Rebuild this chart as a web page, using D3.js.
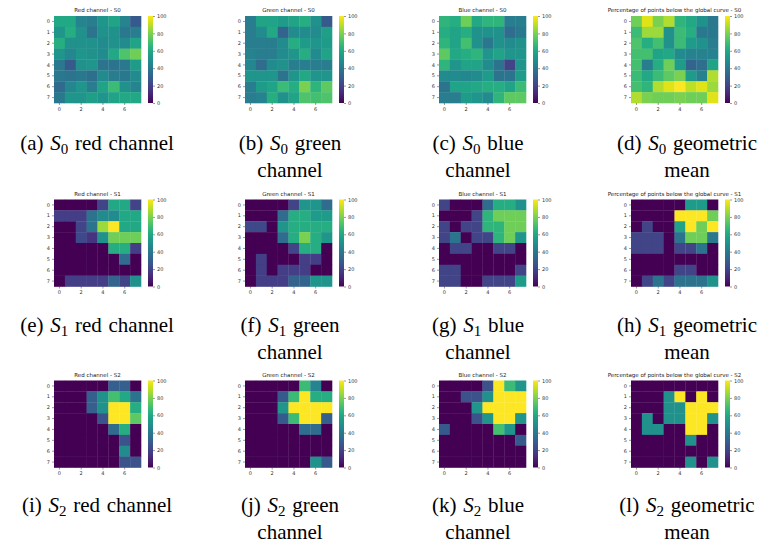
<!DOCTYPE html>
<html>
<head>
<meta charset="utf-8">
<script src="https://cdn.jsdelivr.net/npm/d3@7"></script>
<style>
body { margin: 0; background: #fff; }
svg { display: block; }
.tick text { font-family: "DejaVu Sans", sans-serif; font-size: 5px; fill: #333; }
.tick line { stroke: #333; stroke-width: 0.5; }
.domain { display: none; }
.panel-title { font-family: "DejaVu Sans", sans-serif; font-size: 5.5px; fill: #222; }
.caption { font-family: "Liberation Serif", "Times New Roman", serif; font-size: 21px; fill: #000; word-spacing: 1.5px; }
</style>
</head>
<body>
<svg id="chart" width="760" height="544"></svg>
<script>
const GRID_INDEX = [0, 1, 2, 3, 4, 5, 6, 7];
const X_TICKS = [0, 2, 4, 6];
const CBAR_TICKS = [0, 20, 40, 60, 80, 100];

// S0 - values (0..100)
const redS0 = [
    [60, 60, 45, 42, 52, 58, 45, 28],
    [52, 62, 50, 38, 50, 50, 40, 42],
    [62, 50, 50, 50, 48, 50, 48, 58],
    [52, 46, 52, 50, 48, 60, 72, 78],
    [40, 28, 50, 52, 38, 38, 40, 55],
    [40, 38, 40, 36, 48, 42, 40, 48],
    [34, 46, 52, 42, 58, 68, 50, 45],
    [40, 52, 52, 56, 52, 58, 60, 60]
];
const greenS0 = [
    [42, 58, 58, 55, 58, 62, 50, 28],
    [42, 48, 60, 32, 48, 48, 48, 56],
    [42, 42, 42, 48, 62, 55, 52, 55],
    [44, 42, 42, 48, 52, 62, 48, 58],
    [46, 35, 48, 50, 42, 42, 42, 42],
    [52, 52, 52, 38, 52, 60, 52, 52],
    [42, 55, 58, 68, 62, 80, 65, 75],
    [42, 44, 62, 50, 58, 72, 70, 72]
];
const blueS0 = [
    [65, 62, 78, 60, 65, 65, 42, 42],
    [62, 58, 62, 50, 50, 50, 35, 40],
    [65, 58, 70, 50, 40, 50, 48, 50],
    [75, 60, 62, 65, 52, 58, 52, 52],
    [65, 52, 58, 58, 48, 38, 20, 52],
    [48, 48, 46, 48, 55, 38, 38, 55],
    [38, 58, 58, 60, 62, 62, 58, 68],
    [42, 42, 55, 52, 48, 65, 75, 75]
];
const geoS0 = [
    [78, 95, 80, 88, 65, 60, 50, 40],
    [68, 85, 85, 50, 68, 62, 40, 40],
    [72, 62, 70, 50, 68, 55, 50, 42],
    [70, 70, 58, 60, 48, 44, 44, 44],
    [70, 42, 62, 78, 55, 32, 36, 58],
    [68, 60, 68, 75, 80, 55, 44, 88],
    [70, 65, 88, 95, 100, 90, 95, 85],
    [88, 80, 78, 78, 80, 78, 78, 95]
];

// S1
const redS1 = [
    [0, 0, 0, 0, 20, 60, 60, 20],
    [18, 18, 18, 38, 48, 48, 60, 60],
    [0, 0, 20, 38, 85, 100, 60, 60],
    [0, 0, 22, 15, 50, 78, 78, 78],
    [0, 0, 0, 0, 0, 62, 62, 18],
    [0, 0, 0, 0, 0, 0, 35, 0],
    [0, 0, 0, 0, 0, 0, 0, 0],
    [0, 18, 18, 18, 18, 32, 20, 50]
];
const greenS1 = [
    [0, 0, 0, 0, 20, 52, 52, 35],
    [0, 0, 0, 35, 62, 62, 55, 55],
    [22, 22, 0, 52, 62, 62, 62, 62],
    [0, 0, 0, 35, 62, 80, 62, 52],
    [0, 0, 0, 0, 20, 62, 62, 0],
    [0, 18, 0, 0, 0, 18, 18, 0],
    [0, 18, 0, 18, 18, 18, 0, 0],
    [0, 18, 18, 18, 32, 32, 52, 52]
];
const blueS1 = [
    [20, 0, 0, 0, 35, 62, 62, 50],
    [0, 0, 0, 20, 65, 78, 78, 78],
    [20, 0, 20, 20, 65, 65, 78, 78],
    [20, 38, 0, 20, 20, 65, 78, 52],
    [0, 20, 20, 0, 0, 20, 20, 0],
    [0, 0, 0, 0, 0, 0, 0, 0],
    [20, 20, 0, 0, 0, 0, 0, 20],
    [20, 20, 0, 0, 20, 20, 20, 55]
];
const geoS1 = [
    [0, 0, 0, 0, 0, 55, 55, 0],
    [0, 0, 0, 0, 100, 100, 100, 78],
    [0, 20, 0, 0, 58, 100, 78, 100],
    [20, 20, 20, 0, 38, 78, 78, 40],
    [20, 20, 20, 0, 20, 20, 38, 0],
    [0, 0, 0, 0, 0, 0, 0, 0],
    [0, 0, 0, 0, 20, 20, 0, 0],
    [0, 20, 38, 20, 38, 38, 38, 50]
];

// S2
const redS2 = [
    [0, 0, 0, 0, 0, 30, 30, 0],
    [0, 0, 0, 30, 50, 70, 60, 38],
    [0, 0, 0, 30, 50, 100, 100, 62],
    [0, 0, 0, 0, 25, 100, 100, 75],
    [0, 0, 0, 0, 0, 35, 62, 0],
    [0, 0, 0, 0, 0, 0, 25, 0],
    [0, 0, 0, 0, 0, 0, 48, 0],
    [0, 0, 0, 0, 0, 0, 25, 25]
];
const greenS2 = [
    [0, 0, 0, 0, 0, 68, 45, 0],
    [0, 0, 0, 28, 68, 100, 62, 62],
    [0, 0, 0, 52, 100, 100, 100, 100],
    [0, 0, 0, 28, 68, 100, 100, 30],
    [0, 0, 0, 0, 0, 35, 35, 0],
    [0, 0, 0, 0, 0, 0, 0, 0],
    [0, 0, 0, 0, 0, 0, 0, 0],
    [0, 0, 0, 0, 0, 0, 50, 28]
];
const blueS2 = [
    [0, 0, 0, 0, 25, 100, 68, 52],
    [0, 0, 25, 25, 50, 100, 100, 100],
    [0, 0, 0, 52, 100, 100, 100, 100],
    [0, 0, 0, 25, 52, 100, 100, 52],
    [28, 0, 0, 0, 0, 70, 52, 0],
    [0, 0, 0, 0, 0, 0, 0, 28],
    [0, 0, 0, 0, 0, 0, 0, 0],
    [0, 0, 0, 0, 0, 0, 0, 0]
];
const geoS2 = [
    [0, 0, 0, 0, 0, 0, 0, 0],
    [0, 0, 0, 50, 100, 0, 100, 0],
    [0, 0, 0, 50, 50, 100, 100, 100],
    [0, 50, 0, 50, 50, 100, 100, 50],
    [0, 50, 50, 0, 0, 100, 100, 0],
    [0, 0, 0, 0, 0, 50, 0, 0],
    [0, 0, 0, 0, 0, 0, 0, 0],
    [0, 0, 0, 0, 0, 50, 0, 50]
];

const GEO_TITLE = 'Percentage of points below the global curve';

// one entry per sub-figure, row by row
const panels = [
    {data: redS0, title: 'Red channel', s: '0', letter: 'a', lines: ['red channel']},
    {data: greenS0, title: 'Green channel', s: '0', letter: 'b', lines: ['green', 'channel']},
    {data: blueS0, title: 'Blue channel', s: '0', letter: 'c', lines: ['blue', 'channel']},
    {data: geoS0, title: GEO_TITLE, s: '0', letter: 'd', lines: ['geometric', 'mean']},
    {data: redS1, title: 'Red channel', s: '1', letter: 'e', lines: ['red channel']},
    {data: greenS1, title: 'Green channel', s: '1', letter: 'f', lines: ['green', 'channel']},
    {data: blueS1, title: 'Blue channel', s: '1', letter: 'g', lines: ['blue', 'channel']},
    {data: geoS1, title: GEO_TITLE, s: '1', letter: 'h', lines: ['geometric', 'mean']},
    {data: redS2, title: 'Red channel', s: '2', letter: 'i', lines: ['red channel']},
    {data: greenS2, title: 'Green channel', s: '2', letter: 'j', lines: ['green', 'channel']},
    {data: blueS2, title: 'Blue channel', s: '2', letter: 'k', lines: ['blue', 'channel']},
    {data: geoS2, title: GEO_TITLE, s: '2', letter: 'l', lines: ['geometric', 'mean']}
];

// layout
const MAP_SIZE = 87;
const COL_LEFT = [54, 245, 439, 631];
const ROW_TOP = [16, 199.5, 380.5];
const CAPTION_X = [97, 290, 478, 687];
const CAPTION_Y = [150, 332, 512];
const LINE_GAP = 27;
const CBAR_GAP = 7;
const CBAR_W = 5;

const svg = d3.select('#chart');

const x = d3.scaleBand().domain(GRID_INDEX).range([0, MAP_SIZE]);
const y = d3.scaleBand().domain(GRID_INDEX).range([0, MAP_SIZE]);
const color = d3.scaleSequential(d3.interpolateViridis).domain([0, 100]);
const cbarScale = d3.scaleLinear().domain([0, 100]).range([MAP_SIZE, 0]);

// shared gradient for the colorbars
const grad = svg.append('defs').append('linearGradient')
    .attr('id', 'viridis')
    .attr('x1', 0).attr('y1', 1).attr('x2', 0).attr('y2', 0);
grad.selectAll('stop').data(d3.range(0, 1.0001, 0.05)).enter()
    .append('stop')
        .attr('offset', d => d)
        .attr('stop-color', d => d3.interpolateViridis(d));

panels.forEach((p, i) => {
    let row = Math.floor(i / 4);
    let col = i % 4;
    let g = svg.append('g')
        .attr('transform', `translate(${COL_LEFT[col]},${ROW_TOP[row]})`);

    // cells
    let cells = [];
    p.data.forEach((r, ri) => r.forEach((v, ci) => cells.push({r: ri, c: ci, v: v})));
    g.selectAll('rect.cell').data(cells).enter()
        .append('rect')
            .attr('class', 'cell')
            .attr('x', d => x(d.c))
            .attr('y', d => y(d.r))
            .attr('width', x.bandwidth() + 0.3)
            .attr('height', y.bandwidth() + 0.3)
            .attr('fill', d => color(d.v));

    g.append('g')
        .call(d3.axisLeft(y).tickSize(2).tickPadding(2));
    g.append('g')
        .attr('transform', `translate(0,${MAP_SIZE})`)
        .call(d3.axisBottom(x).tickValues(X_TICKS).tickSize(2).tickPadding(2));

    g.append('text')
        .attr('class', 'panel-title')
        .attr('x', MAP_SIZE / 2)
        .attr('y', -4)
        .attr('text-anchor', 'middle')
        .text(p.title + ' - S' + p.s);

    // colorbar
    let cb = g.append('g')
        .attr('transform', `translate(${MAP_SIZE + CBAR_GAP},0)`);
    cb.append('rect')
        .attr('width', CBAR_W)
        .attr('height', MAP_SIZE)
        .attr('fill', 'url(#viridis)');
    cb.append('g')
        .attr('transform', `translate(${CBAR_W},0)`)
        .call(d3.axisRight(cbarScale).tickValues(CBAR_TICKS).tickSize(2).tickPadding(2));

    // caption
    p.lines.forEach((line, li) => {
        let t = svg.append('text')
            .attr('class', 'caption')
            .attr('x', CAPTION_X[col])
            .attr('y', CAPTION_Y[row] + li * LINE_GAP)
            .attr('text-anchor', 'middle');
        if (li === 0) {
            t.append('tspan').text('(' + p.letter + ') ');
            t.append('tspan').attr('font-style', 'italic').text('S');
            t.append('tspan').attr('font-size', '15px').attr('dy', 3.5).text(p.s);
            t.append('tspan').attr('dy', -3.5).text(' ' + line);
        } else {
            t.text(line);
        }
    });
});
</script>
</body>
</html>
